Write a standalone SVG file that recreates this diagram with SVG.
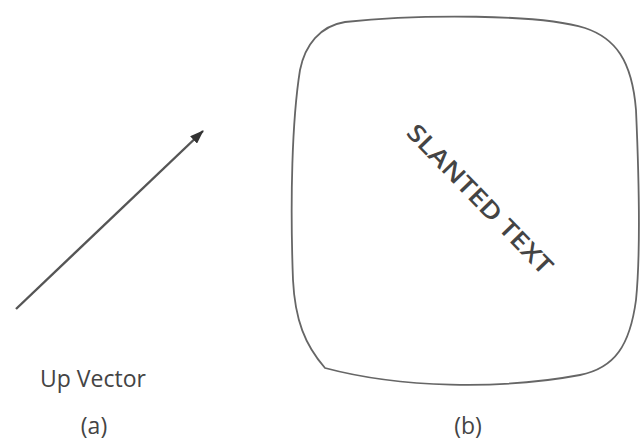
<svg xmlns="http://www.w3.org/2000/svg" width="641" height="440" viewBox="0 0 641 440">
<style>
text{font-family:"Open Sans","Liberation Sans",sans-serif;fill:#444}
.lbl{font-size:23px;text-anchor:middle}
.edge{stroke:#555;stroke-width:2.4;fill:none}
.screen{stroke:#666;stroke-width:1.8;fill:none}
</style>
<defs>
<marker id="ah" markerWidth="14" markerHeight="10" refX="13" refY="5" orient="auto" markerUnits="userSpaceOnUse" viewBox="0 0 14 10">
<path d="M0,0 L14,5 L0,10 Z" fill="#333"/>
</marker>
</defs>
<g id="connectors">
<line class="edge" x1="16" y1="309" x2="203" y2="131" marker-end="url(#ah)"/>
</g>
<g id="upvector">
<text class="lbl" x="93" y="387">Up Vector</text>
<text class="lbl" x="94" y="434">(a)</text>
</g>
<g id="screen">
<path class="screen" d="M345,22 C420,14 540,14 585,28 C615,38 632,60 636,110 C640,200 640,260 636,300 C630,345 615,368 580,375 C500,390 400,388 325,368 C305,345 295,320 293,280 C290,200 292,120 300,70 C305,45 320,26 345,22 Z"/>
<text x="0" y="0" font-size="24" font-weight="600" text-anchor="middle" textLength="198" lengthAdjust="spacingAndGlyphs" transform="translate(474,205) rotate(46)">SLANTED TEXT</text>
<text class="lbl" x="468" y="434">(b)</text>
</g>
</svg>
